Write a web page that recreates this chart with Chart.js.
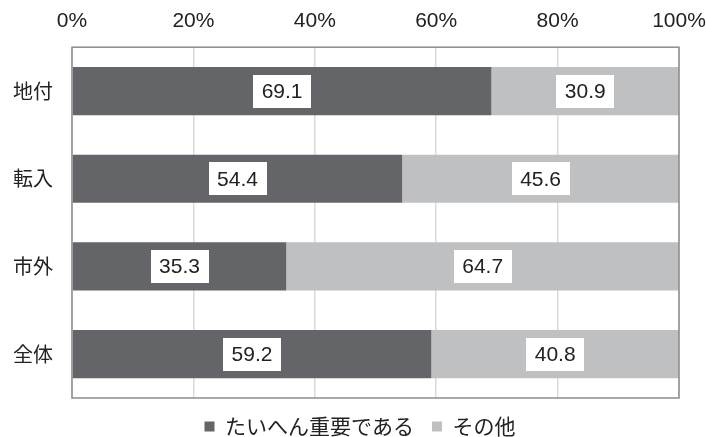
<!DOCTYPE html>
<html>
<head>
<meta charset="utf-8">
<script src="https://cdn.jsdelivr.net/npm/chart.js@4"></script>
<style>
    html, body { margin: 0; padding: 0; background: #fff; }
    #wrap { width: 706px; height: 437px; }
</style>
</head>
<body>
<div id="wrap"><canvas id="chart"></canvas></div>
<script>
// Share of respondents by group (percent)
const categories = ['地付', '転入', '市外', '全体'];
const veryImportant = [69.1, 54.4, 35.3, 59.2];
const others = [30.9, 45.6, 64.7, 40.8];
const seriesNames = ['たいへん重要である', 'その他'];

const FONT = '"Liberation Sans", Arial, "Noto Sans CJK JP", sans-serif';
const JP_FONT = '"Noto Sans CJK JP", sans-serif';

// white value boxes centred on each segment
const valueBoxes = {
    id: 'valueBoxes',
    afterDatasetsDraw(chart) {
        const ctx = chart.ctx;
        ctx.save();
        ctx.font = '21px ' + FONT;
        ctx.textAlign = 'center';
        ctx.textBaseline = 'middle';
        chart.data.datasets.forEach((ds, i) => {
            chart.getDatasetMeta(i).data.forEach((bar, j) => {
                const label = ds.data[j].toFixed(1);
                const cx = (bar.x + bar.base) / 2;
                const cy = bar.y;
                const w = ctx.measureText(label).width + 17;
                const h = 33;
                ctx.fillStyle = '#fff';
                ctx.fillRect(Math.round(cx - w / 2), Math.round(cy - h / 2), Math.round(w), h);
                ctx.fillStyle = '#222';
                ctx.fillText(label, cx, cy + 1);
            });
        });
        ctx.restore();
    }
};

// grey frame round the plot area
const plotFrame = {
    id: 'plotFrame',
    afterDraw(chart) {
        const a = chart.chartArea;
        const ctx = chart.ctx;
        ctx.save();
        ctx.strokeStyle = '#8c8c8c';
        ctx.lineWidth = 1.5;
        ctx.strokeRect(a.left, a.top, a.right - a.left, a.bottom - a.top);
        ctx.restore();
    }
};

// keep the legend band short so the plot reaches further down,
// then nudge it a little to the right
const legendPlace = {
    id: 'legendPlace',
    beforeInit(chart) {
        const fit = chart.legend.fit;
        chart.legend.fit = function () {
            fit.bind(chart.legend)();
            this.height = 39;
        };
    },
    afterLayout(chart) {
        const lg = chart.legend;
        lg.left += 10;
        lg.right += 10;
    }
};

new Chart(document.getElementById('chart'), {
    type: 'bar',
    data: {
        labels: categories,
        datasets: [{
            label: seriesNames[0],
            data: veryImportant,
            backgroundColor: '#646569'
        }, {
            label: seriesNames[1],
            data: others,
            backgroundColor: '#bfc0c2'
        }]
    },
    options: {
        indexAxis: 'y',
        responsive: true,
        maintainAspectRatio: false,
        animation: false,
        barPercentage: 0.55,
        categoryPercentage: 1.0,
        layout: { padding: { left: -6, right: 0, top: -4, bottom: 0 } },
        scales: {
            x: {
                position: 'top',
                stacked: true,
                min: 0,
                max: 100,
                // only half of the end labels should hang past the plot
                afterFit(scale) {
                    scale.paddingLeft = 15;
                    scale.paddingRight = 27;
                },
                ticks: {
                    stepSize: 20,
                    callback: v => v + '%',
                    color: '#222',
                    font: { family: FONT, size: 21 },
                    padding: 13
                },
                grid: { color: '#d9d9d9', lineWidth: 1.5, drawTicks: false },
                border: { display: false }
            },
            y: {
                stacked: true,
                ticks: {
                    color: '#222',
                    font: { family: JP_FONT, size: 20 },
                    padding: 19
                },
                grid: { display: false, drawTicks: false },
                border: { display: false }
            }
        },
        plugins: {
            legend: {
                position: 'bottom',
                labels: {
                    color: '#222',
                    font: { family: JP_FONT, size: 21 },
                    boxWidth: 10,
                    boxHeight: 10,
                    padding: 18
                }
            },
            tooltip: { enabled: false }
        }
    },
    plugins: [valueBoxes, plotFrame, legendPlace]
});
</script>
</body>
</html>
